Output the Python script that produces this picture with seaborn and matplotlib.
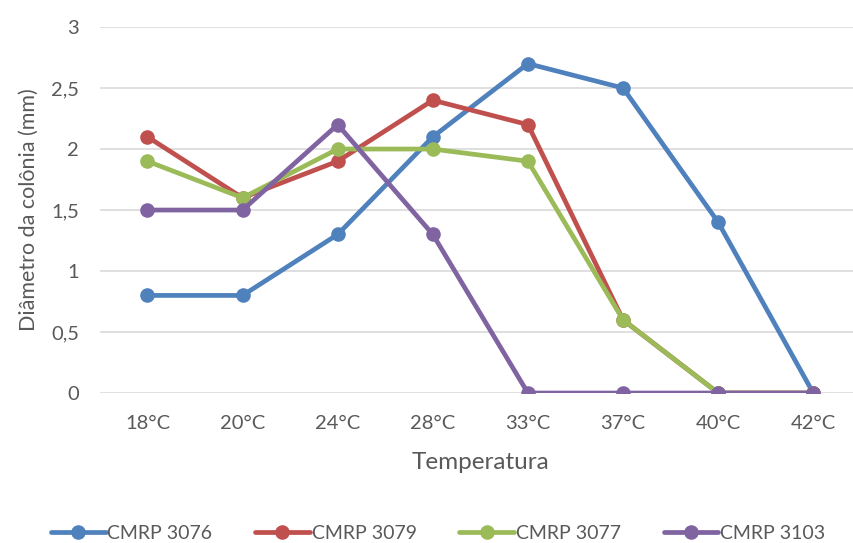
import matplotlib
matplotlib.use("Agg")
import matplotlib.pyplot as plt
import seaborn as sns
import pandas as pd
from matplotlib.ticker import FuncFormatter

temperaturas = ["18°C", "20°C", "24°C", "28°C", "33°C", "37°C", "40°C", "42°C"]
cmrp_3076 = [0.8, 0.8, 1.3, 2.1, 2.7, 2.5, 1.4, 0.0]
cmrp_3079 = [2.1, 1.6, 1.9, 2.4, 2.2, 0.6, 0.0, 0.0]
cmrp_3077 = [1.9, 1.6, 2.0, 2.0, 1.9, 0.6, 0.0, 0.0]
cmrp_3103 = [1.5, 1.5, 2.2, 1.3, 0.0, 0.0, 0.0, 0.0]

series_names = ["CMRP 3076", "CMRP 3079", "CMRP 3077", "CMRP 3103"]
cores = ["#4F81BD", "#C0504D", "#9BBB59", "#8064A2"]

frames = []
for nome, vals in zip(series_names, [cmrp_3076, cmrp_3079, cmrp_3077, cmrp_3103]):
    frames.append(pd.DataFrame({"Temperatura": temperaturas, "Diametro": vals, "Serie": nome}))
df = pd.concat(frames, ignore_index=True)

sns.set_theme(style="white")
plt.rcParams["font.family"] = ["Lato", "DejaVu Sans"]

fig = plt.figure(figsize=(8.54, 5.43), dpi=100)
ax = fig.add_axes([0.117, 0.2762, 0.891, 0.674])

sns.lineplot(data=df, x="Temperatura", y="Diametro", hue="Serie",
             hue_order=series_names, palette=cores, sort=False,
             marker="o", markersize=10.5, markeredgewidth=0, linewidth=3.4,
             ax=ax, legend=True)

ax.set_xlim(-0.5, 7.5)
ax.set_ylim(0, 3)
ax.set_yticks([0, 0.5, 1, 1.5, 2, 2.5, 3])
ax.yaxis.set_major_formatter(FuncFormatter(lambda v, p: f"{v:g}".replace(".", ",")))
ax.grid(axis="y", color="#d9d9d9", linewidth=1.2)
ax.set_axisbelow(True)
for s in ax.spines.values():
    s.set_visible(False)

gray = "#595959"
ax.tick_params(axis="both", colors=gray, labelsize=14.5, length=0)
ax.tick_params(axis="x", pad=16)
ax.tick_params(axis="y", pad=15)
ax.set_xlabel("Temperatura", fontsize=17.5, color=gray, labelpad=14)
ax.set_ylabel("Diâmetro da colônia (mm)", fontsize=15.5, color=gray, labelpad=9)

ax.legend(loc="center", bbox_to_anchor=(0.513, 0.018), bbox_transform=fig.transFigure,
          ncol=4, frameon=False, fontsize=14, labelcolor=gray,
          handlelength=2.8, handletextpad=0.1, columnspacing=2.2, borderaxespad=0)

fig.savefig("out.png", dpi=100)
